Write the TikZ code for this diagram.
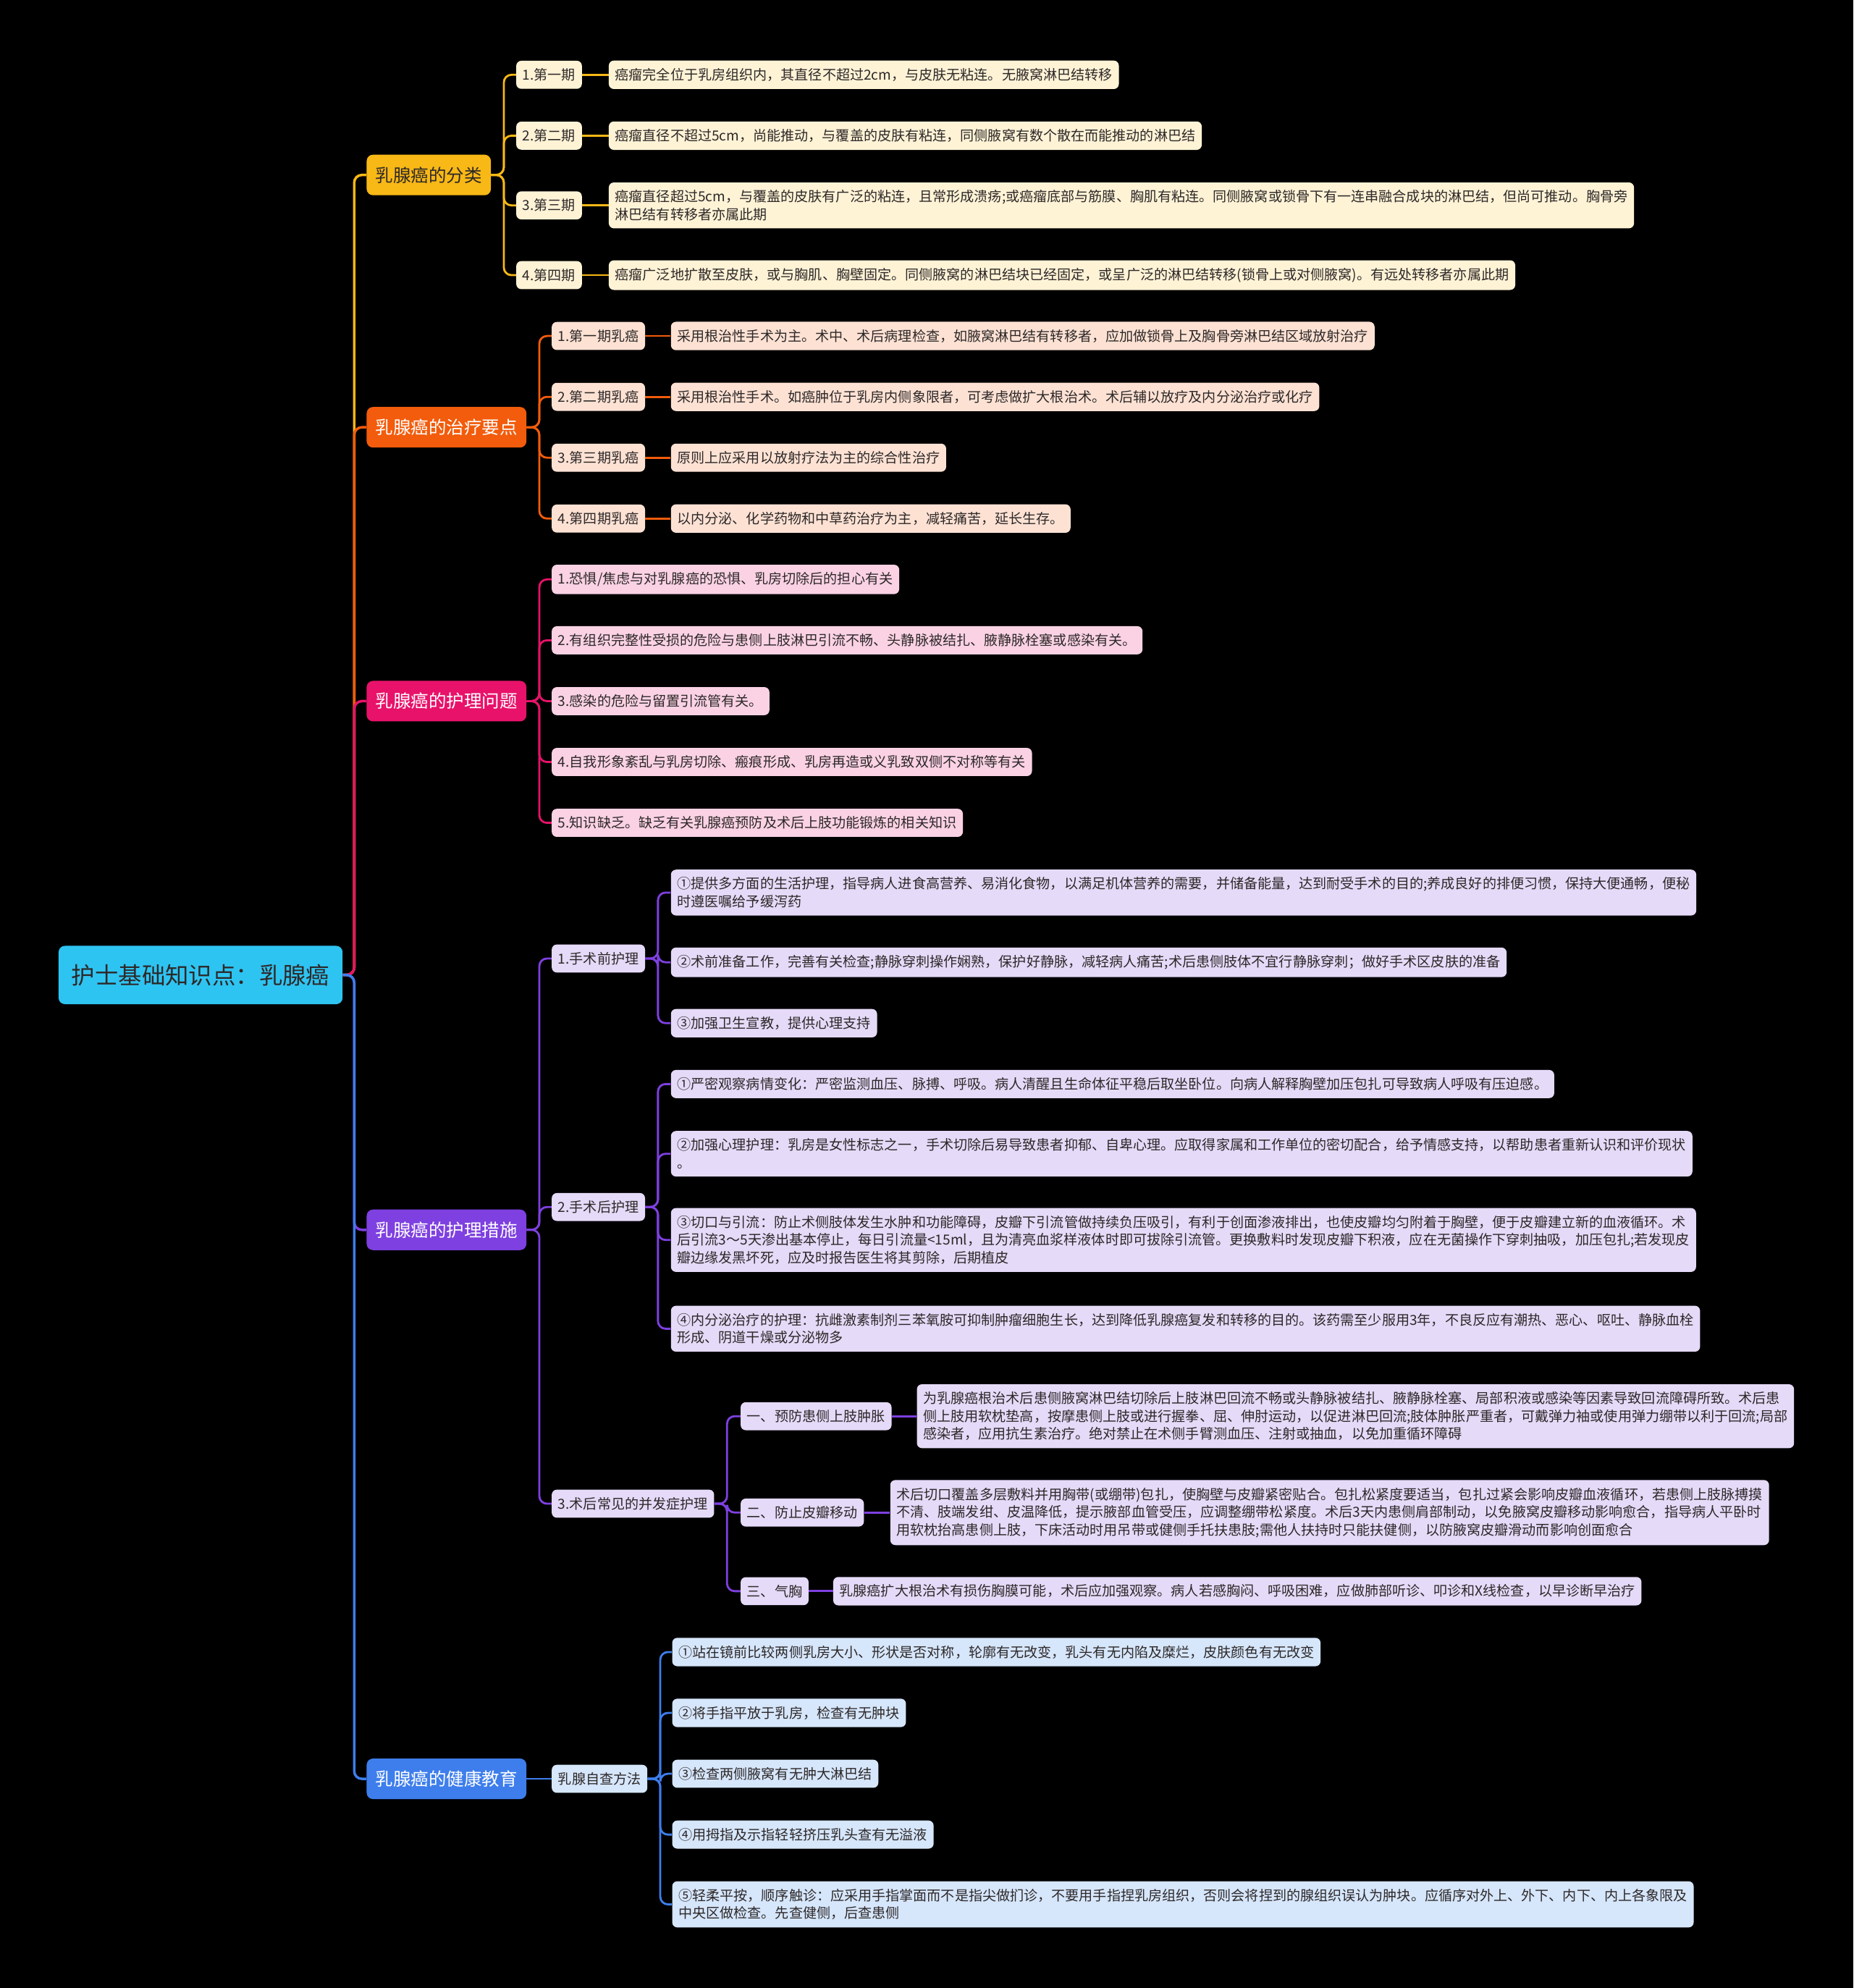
\documentclass[tikz,border=0pt]{standalone}
\usepackage{fontspec}
\setmainfont{Noto Sans CJK SC}

\begin{document}
\begin{tikzpicture}[x=1pt,y=-1pt,
    box/.style={rounded corners=4pt,anchor=west,align=left,text=txt,inner xsep=5pt,inner ysep=6pt,
      minimum height=22pt,font=\fontsize{10.9}{14}\selectfont},
    topic/.style={rounded corners=5pt,anchor=west,inner xsep=7pt,minimum height=32pt,text=white,
      font=\fontsize{14}{17}\selectfont},
    link/.style={line width=1.6pt,rounded corners=6pt}]
            \definecolor{txt}{RGB}{45,40,40}
            \definecolor{croot}{RGB}{46,196,242}
            \definecolor{cyel}{RGB}{248,184,22}
            \definecolor{cyell}{RGB}{255,243,214}
            \definecolor{corg}{RGB}{242,92,12}
            \definecolor{corgl}{RGB}{253,226,212}
            \definecolor{cpnk}{RGB}{232,18,106}
            \definecolor{cpnkl}{RGB}{250,210,228}
            \definecolor{cpur}{RGB}{126,64,224}
            \definecolor{cpurl}{RGB}{229,218,248}
            \definecolor{cblu}{RGB}{62,126,236}
            \definecolor{cblul}{RGB}{214,230,251}
            \fill[black] (0,0) rectangle (1462,1568);
            \useasboundingbox (0,0) rectangle (1462,1568);
            \node[fill=croot,rounded corners=5pt,anchor=west,minimum width=224pt,minimum height=46pt,
                text=txt,font=\fontsize{18.5}{22}\selectfont] (root) at (46,769) {护士基础知识点：乳腺癌};
            \node[topic,fill=cyel,text=txt] (fenlei) at (289,138) {乳腺癌的分类};
            \node[topic,fill=corg] (zhiliao) at (289,337) {乳腺癌的治疗要点};
            \node[topic,fill=cpnk] (wenti) at (289,553) {乳腺癌的护理问题};
            \node[topic,fill=cpur] (cuoshi) at (289,970) {乳腺癌的护理措施};
            \node[topic,fill=cblu] (jiaoyu) at (289,1403) {乳腺癌的健康教育};
            \draw[link,line width=2pt,cyel] (root.east) -- ++(9,0) |- (fenlei.west);
            \draw[link,line width=2pt,corg] (root.east) -- ++(9,0) |- (zhiliao.west);
            \draw[link,line width=2pt,cpnk] (root.east) -- ++(9,0) |- (wenti.west);
            \draw[link,line width=2pt,cpur] (root.east) -- ++(9,0) |- (cuoshi.west);
            \draw[link,line width=2pt,cblu] (root.east) -- ++(9,0) |- (jiaoyu.west);
            % fenlei
            \node[box,fill=cyell] (f1) at (407,59) {1.第一期};
            \node[box,fill=cyell] (f2) at (407,107) {2.第二期};
            \node[box,fill=cyell] (f3) at (407,162) {3.第三期};
            \node[box,fill=cyell] (f4) at (407,217) {4.第四期};
            \node[box,fill=cyell] (fl1) at (480,59) {癌瘤完全位于乳房组织内，其直径不超过2cm，与皮肤无粘连。无腋窝淋巴结转移};
            \node[box,fill=cyell] (fl2) at (480,107) {癌瘤直径不超过5cm，尚能推动，与覆盖的皮肤有粘连，同侧腋窝有数个散在而能推动的淋巴结};
            \node[box,fill=cyell] (fl3) at (480,162) {癌瘤直径超过5cm，与覆盖的皮肤有广泛的粘连，且常形成溃疡;或癌瘤底部与筋膜、胸肌有粘连。同侧腋窝或锁骨下有一连串融合成块的淋巴结，但尚可推动。胸骨旁\\淋巴结有转移者亦属此期};
            \node[box,fill=cyell] (fl4) at (480,217) {癌瘤广泛地扩散至皮肤，或与胸肌、胸壁固定。同侧腋窝的淋巴结块已经固定，或呈广泛的淋巴结转移(锁骨上或对侧腋窝)。有远处转移者亦属此期};
            \foreach \k in {1,...,4}{
                \draw[link,cyel] (fenlei.east) -- ++(10,0) |- (f\k.west);
                \draw[link,cyel] (f\k.east) -- (fl\k.west);
            }
            % zhiliao
            \node[box,fill=corgl] (z1) at (435,265) {1.第一期乳癌};
            \node[box,fill=corgl] (z2) at (435,313) {2.第二期乳癌};
            \node[box,fill=corgl] (z3) at (435,361) {3.第三期乳癌};
            \node[box,fill=corgl] (z4) at (435,409) {4.第四期乳癌};
            \node[box,fill=corgl] (zl1) at (529,265) {采用根治性手术为主。术中、术后病理检查，如腋窝淋巴结有转移者，应加做锁骨上及胸骨旁淋巴结区域放射治疗};
            \node[box,fill=corgl] (zl2) at (529,313) {采用根治性手术。如癌肿位于乳房内侧象限者，可考虑做扩大根治术。术后辅以放疗及内分泌治疗或化疗};
            \node[box,fill=corgl] (zl3) at (529,361) {原则上应采用以放射疗法为主的综合性治疗};
            \node[box,fill=corgl] (zl4) at (529,409) {以内分泌、化学药物和中草药治疗为主，减轻痛苦，延长生存。};
            \foreach \k in {1,...,4}{
                \draw[link,corg] (zhiliao.east) -- ++(10,0) |- (z\k.west);
                \draw[link,corg] (z\k.east) -- (zl\k.west);
            }
            % wenti
            \node[box,fill=cpnkl] (w1) at (435,457) {1.恐惧/焦虑与对乳腺癌的恐惧、乳房切除后的担心有关};
            \node[box,fill=cpnkl] (w2) at (435,505) {2.有组织完整性受损的危险与患侧上肢淋巴引流不畅、头静脉被结扎、腋静脉栓塞或感染有关。};
            \node[box,fill=cpnkl] (w3) at (435,553) {3.感染的危险与留置引流管有关。};
            \node[box,fill=cpnkl] (w4) at (435,601) {4.自我形象紊乱与乳房切除、瘢痕形成、乳房再造或义乳致双侧不对称等有关};
            \node[box,fill=cpnkl] (w5) at (435,649) {5.知识缺乏。缺乏有关乳腺癌预防及术后上肢功能锻炼的相关知识};
            \foreach \k in {1,...,5}
                \draw[link,cpnk] (wenti.east) -- ++(10,0) |- (w\k.west);
            % cuoshi
            \node[box,fill=cpurl] (c1) at (435,756) {1.手术前护理};
            \node[box,fill=cpurl] (c2) at (435,952) {2.手术后护理};
            \node[box,fill=cpurl] (c3) at (435,1186) {3.术后常见的并发症护理};
            \foreach \k in {1,2,3}
                \draw[link,cpur] (cuoshi.east) -- ++(10,0) |- (c\k.west);
            \node[box,fill=cpurl] (c11) at (529,704) {①提供多方面的生活护理，指导病人进食高营养、易消化食物，以满足机体营养的需要，并储备能量，达到耐受手术的目的;养成良好的排便习惯，保持大便通畅，便秘\\时遵医嘱给予缓泻药};
            \node[box,fill=cpurl] (c12) at (529,759) {②术前准备工作，完善有关检查;静脉穿刺操作娴熟，保护好静脉，减轻病人痛苦;术后患侧肢体不宜行静脉穿刺；做好手术区皮肤的准备};
            \node[box,fill=cpurl] (c13) at (529,807) {③加强卫生宣教，提供心理支持};
            \foreach \k in {1,2,3}
                \draw[link,cpur] (c1.east) -- ++(10,0) |- (c1\k.west);
            \node[box,fill=cpurl] (c21) at (529,855) {①严密观察病情变化：严密监测血压、脉搏、呼吸。病人清醒且生命体征平稳后取坐卧位。向病人解释胸壁加压包扎可导致病人呼吸有压迫感。};
            \node[box,fill=cpurl] (c22) at (529,910) {②加强心理护理：乳房是女性标志之一，手术切除后易导致患者抑郁、自卑心理。应取得家属和工作单位的密切配合，给予情感支持，以帮助患者重新认识和评价现状\\。};
            \node[box,fill=cpurl] (c23) at (529,978) {③切口与引流：防止术侧肢体发生水肿和功能障碍，皮瓣下引流管做持续负压吸引，有利于创面渗液排出，也使皮瓣均匀附着于胸壁，便于皮瓣建立新的血液循环。术\\后引流3～5天渗出基本停止，每日引流量<15ml，且为清亮血浆样液体时即可拔除引流管。更换敷料时发现皮瓣下积液，应在无菌操作下穿刺抽吸，加压包扎;若发现皮\\瓣边缘发黑坏死，应及时报告医生将其剪除，后期植皮};
            \node[box,fill=cpurl] (c24) at (529,1048) {④内分泌治疗的护理：抗雌激素制剂三苯氧胺可抑制肿瘤细胞生长，达到降低乳腺癌复发和转移的目的。该药需至少服用3年，不良反应有潮热、恶心、呕吐、静脉血栓\\形成、阴道干燥或分泌物多};
            \foreach \k in {1,...,4}
                \draw[link,cpur] (c2.east) -- ++(10,0) |- (c2\k.west);
            \node[box,fill=cpurl] (c31) at (584,1117) {一、预防患侧上肢肿胀};
            \node[box,fill=cpurl] (c32) at (584,1193) {二、防止皮瓣移动};
            \node[box,fill=cpurl] (c33) at (584,1255) {三、气胸};
            \node[box,fill=cpurl] (c31l) at (723,1117) {为乳腺癌根治术后患侧腋窝淋巴结切除后上肢淋巴回流不畅或头静脉被结扎、腋静脉栓塞、局部积液或感染等因素导致回流障碍所致。术后患\\侧上肢用软枕垫高，按摩患侧上肢或进行握拳、屈、伸肘运动，以促进淋巴回流;肢体肿胀严重者，可戴弹力袖或使用弹力绷带以利于回流;局部\\感染者，应用抗生素治疗。绝对禁止在术侧手臂测血压、注射或抽血，以免加重循环障碍};
            \node[box,fill=cpurl] (c32l) at (702,1193) {术后切口覆盖多层敷料并用胸带(或绷带)包扎，使胸壁与皮瓣紧密贴合。包扎松紧度要适当，包扎过紧会影响皮瓣血液循环，若患侧上肢脉搏摸\\不清、肢端发绀、皮温降低，提示腋部血管受压，应调整绷带松紧度。术后3天内患侧肩部制动，以免腋窝皮瓣移动影响愈合，指导病人平卧时\\用软枕抬高患侧上肢，下床活动时用吊带或健侧手托扶患肢;需他人扶持时只能扶健侧，以防腋窝皮瓣滑动而影响创面愈合};
            \node[box,fill=cpurl] (c33l) at (657,1255) {乳腺癌扩大根治术有损伤胸膜可能，术后应加强观察。病人若感胸闷、呼吸困难，应做肺部听诊、叩诊和X线检查，以早诊断早治疗};
            \foreach \k in {1,2,3}{
                \draw[link,cpur] (c3.east) -- ++(10,0) |- (c3\k.west);
                \draw[link,cpur] (c3\k.east) -- (c3\k l.west);
            }
            % jiaoyu
            \node[box,fill=cblul] (j1) at (435,1403) {乳腺自查方法};
            \draw[link,cblu] (jiaoyu.east) -- (j1.west);
            \node[box,fill=cblul] (j11) at (530,1303) {①站在镜前比较两侧乳房大小、形状是否对称，轮廓有无改变，乳头有无内陷及糜烂，皮肤颜色有无改变};
            \node[box,fill=cblul] (j12) at (530,1351) {②将手指平放于乳房，检查有无肿块};
            \node[box,fill=cblul] (j13) at (530,1399) {③检查两侧腋窝有无肿大淋巴结};
            \node[box,fill=cblul] (j14) at (530,1447) {④用拇指及示指轻轻挤压乳头查有无溢液};
            \node[box,fill=cblul] (j15) at (530,1502) {⑤轻柔平按，顺序触诊：应采用手指掌面而不是指尖做扪诊，不要用手指捏乳房组织，否则会将捏到的腺组织误认为肿块。应循序对外上、外下、内下、内上各象限及\\中央区做检查。先查健侧，后查患侧};
            \foreach \k in {1,...,5}
                \draw[link,cblu] (j1.east) -- ++(10,0) |- (j1\k.west);
        \end{tikzpicture}
\end{document}
